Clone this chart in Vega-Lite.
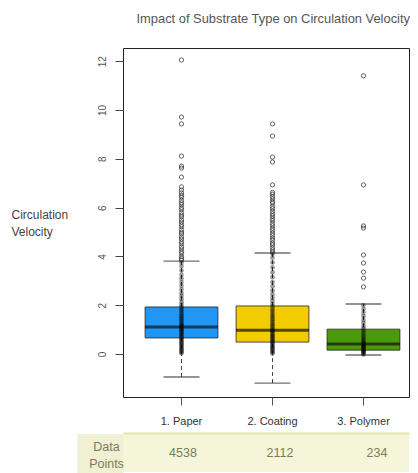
{
  "$schema": "https://vega.github.io/schema/vega-lite/v6.json",
  "padding": {"left": 10, "top": 12, "right": 0, "bottom": 0},
  "background": "white",
  "config": {"font": "Liberation Sans"},
  "title": {"text": "Impact of Substrate Type on Circulation Velocity", "anchor": "start", "dx": 126, "offset": 22, "fontSize": 12.9, "fontWeight": "normal", "color": "#555555"},
  "bounds": "flush",
  "spacing": 36,
  "datasets": {
    "boxes": [
      {"substrate": "1. Paper", "lower": -0.94, "q1": 0.66, "median": 1.11, "q3": 1.93, "upper": 3.81},
      {"substrate": "2. Coating", "lower": -1.19, "q1": 0.49, "median": 0.98, "q3": 1.97, "upper": 4.14},
      {"substrate": "3. Polymer", "lower": -0.04, "q1": 0.16, "median": 0.41, "q3": 1.02, "upper": 2.05}
    ],
    "outliers": [
      {"substrate": "1. Paper", "value": 12.05}, {"substrate": "1. Paper", "value": 9.71}, {"substrate": "1. Paper", "value": 9.43},
      {"substrate": "1. Paper", "value": 8.11}, {"substrate": "1. Paper", "value": 7.7}, {"substrate": "1. Paper", "value": 7.62},
      {"substrate": "1. Paper", "value": 7.25}, {"substrate": "1. Paper", "value": 6.85}, {"substrate": "1. Paper", "value": 6.72},
      {"substrate": "1. Paper", "value": 6.6}, {"substrate": "1. Paper", "value": 6.5}, {"substrate": "1. Paper", "value": 6.42},
      {"substrate": "1. Paper", "value": 6.3}, {"substrate": "1. Paper", "value": 6.2}, {"substrate": "1. Paper", "value": 6.12},
      {"substrate": "1. Paper", "value": 6.0}, {"substrate": "1. Paper", "value": 5.92}, {"substrate": "1. Paper", "value": 5.8},
      {"substrate": "1. Paper", "value": 5.7}, {"substrate": "1. Paper", "value": 5.62}, {"substrate": "1. Paper", "value": 5.5},
      {"substrate": "1. Paper", "value": 5.41}, {"substrate": "1. Paper", "value": 5.3}, {"substrate": "1. Paper", "value": 5.22},
      {"substrate": "1. Paper", "value": 5.1}, {"substrate": "1. Paper", "value": 5.0}, {"substrate": "1. Paper", "value": 4.92},
      {"substrate": "1. Paper", "value": 4.8}, {"substrate": "1. Paper", "value": 4.71}, {"substrate": "1. Paper", "value": 4.6},
      {"substrate": "1. Paper", "value": 4.52}, {"substrate": "1. Paper", "value": 4.4}, {"substrate": "1. Paper", "value": 4.31},
      {"substrate": "1. Paper", "value": 4.2}, {"substrate": "1. Paper", "value": 4.12}, {"substrate": "1. Paper", "value": 4.0},
      {"substrate": "1. Paper", "value": 3.92}, {"substrate": "1. Paper", "value": 3.85},
      {"substrate": "2. Coating", "value": 9.43}, {"substrate": "2. Coating", "value": 8.93}, {"substrate": "2. Coating", "value": 8.07},
      {"substrate": "2. Coating", "value": 7.87}, {"substrate": "2. Coating", "value": 6.93}, {"substrate": "2. Coating", "value": 6.62},
      {"substrate": "2. Coating", "value": 6.55}, {"substrate": "2. Coating", "value": 6.45}, {"substrate": "2. Coating", "value": 6.36},
      {"substrate": "2. Coating", "value": 6.25}, {"substrate": "2. Coating", "value": 6.18}, {"substrate": "2. Coating", "value": 6.05},
      {"substrate": "2. Coating", "value": 5.96}, {"substrate": "2. Coating", "value": 5.85}, {"substrate": "2. Coating", "value": 5.75},
      {"substrate": "2. Coating", "value": 5.66}, {"substrate": "2. Coating", "value": 5.55}, {"substrate": "2. Coating", "value": 5.47},
      {"substrate": "2. Coating", "value": 5.35}, {"substrate": "2. Coating", "value": 5.26}, {"substrate": "2. Coating", "value": 5.15},
      {"substrate": "2. Coating", "value": 5.06}, {"substrate": "2. Coating", "value": 4.95}, {"substrate": "2. Coating", "value": 4.86},
      {"substrate": "2. Coating", "value": 4.75}, {"substrate": "2. Coating", "value": 4.66}, {"substrate": "2. Coating", "value": 4.55},
      {"substrate": "2. Coating", "value": 4.47}, {"substrate": "2. Coating", "value": 4.36}, {"substrate": "2. Coating", "value": 4.27},
      {"substrate": "2. Coating", "value": 4.18},
      {"substrate": "3. Polymer", "value": 11.4}, {"substrate": "3. Polymer", "value": 6.93}, {"substrate": "3. Polymer", "value": 5.25},
      {"substrate": "3. Polymer", "value": 5.16}, {"substrate": "3. Polymer", "value": 4.06}, {"substrate": "3. Polymer", "value": 3.73},
      {"substrate": "3. Polymer", "value": 3.36}, {"substrate": "3. Polymer", "value": 3.11}, {"substrate": "3. Polymer", "value": 2.75}
    ],
    "points": [
      {"substrate": "1. Paper", "value": 0.03}, {"substrate": "1. Paper", "value": 0.08}, {"substrate": "1. Paper", "value": 0.12},
      {"substrate": "1. Paper", "value": 0.18}, {"substrate": "1. Paper", "value": 0.22}, {"substrate": "1. Paper", "value": 0.27},
      {"substrate": "1. Paper", "value": 0.33}, {"substrate": "1. Paper", "value": 0.38}, {"substrate": "1. Paper", "value": 0.42},
      {"substrate": "1. Paper", "value": 0.47}, {"substrate": "1. Paper", "value": 0.52}, {"substrate": "1. Paper", "value": 0.58},
      {"substrate": "1. Paper", "value": 0.63}, {"substrate": "1. Paper", "value": 0.67}, {"substrate": "1. Paper", "value": 0.72},
      {"substrate": "1. Paper", "value": 0.78}, {"substrate": "1. Paper", "value": 0.83}, {"substrate": "1. Paper", "value": 0.88},
      {"substrate": "1. Paper", "value": 0.93}, {"substrate": "1. Paper", "value": 0.97}, {"substrate": "1. Paper", "value": 1.02},
      {"substrate": "1. Paper", "value": 1.08}, {"substrate": "1. Paper", "value": 1.13}, {"substrate": "1. Paper", "value": 1.18},
      {"substrate": "1. Paper", "value": 1.22}, {"substrate": "1. Paper", "value": 1.28}, {"substrate": "1. Paper", "value": 1.35},
      {"substrate": "1. Paper", "value": 1.42}, {"substrate": "1. Paper", "value": 1.48}, {"substrate": "1. Paper", "value": 1.55},
      {"substrate": "1. Paper", "value": 1.62}, {"substrate": "1. Paper", "value": 1.7}, {"substrate": "1. Paper", "value": 1.78},
      {"substrate": "1. Paper", "value": 1.85}, {"substrate": "1. Paper", "value": 1.93}, {"substrate": "1. Paper", "value": 2.02},
      {"substrate": "1. Paper", "value": 2.12}, {"substrate": "1. Paper", "value": 2.25}, {"substrate": "1. Paper", "value": 2.38},
      {"substrate": "1. Paper", "value": 2.5}, {"substrate": "1. Paper", "value": 2.65}, {"substrate": "1. Paper", "value": 2.8},
      {"substrate": "1. Paper", "value": 2.95}, {"substrate": "1. Paper", "value": 3.1}, {"substrate": "1. Paper", "value": 3.25},
      {"substrate": "1. Paper", "value": 3.42}, {"substrate": "1. Paper", "value": 3.6}, {"substrate": "1. Paper", "value": 3.75},
      {"substrate": "2. Coating", "value": 0.02}, {"substrate": "2. Coating", "value": 0.07}, {"substrate": "2. Coating", "value": 0.13},
      {"substrate": "2. Coating", "value": 0.17}, {"substrate": "2. Coating", "value": 0.23}, {"substrate": "2. Coating", "value": 0.28},
      {"substrate": "2. Coating", "value": 0.32}, {"substrate": "2. Coating", "value": 0.38}, {"substrate": "2. Coating", "value": 0.43},
      {"substrate": "2. Coating", "value": 0.48}, {"substrate": "2. Coating", "value": 0.53}, {"substrate": "2. Coating", "value": 0.57},
      {"substrate": "2. Coating", "value": 0.62}, {"substrate": "2. Coating", "value": 0.68}, {"substrate": "2. Coating", "value": 0.73},
      {"substrate": "2. Coating", "value": 0.77}, {"substrate": "2. Coating", "value": 0.82}, {"substrate": "2. Coating", "value": 0.88},
      {"substrate": "2. Coating", "value": 0.93}, {"substrate": "2. Coating", "value": 0.98}, {"substrate": "2. Coating", "value": 1.03},
      {"substrate": "2. Coating", "value": 1.1}, {"substrate": "2. Coating", "value": 1.17}, {"substrate": "2. Coating", "value": 1.23},
      {"substrate": "2. Coating", "value": 1.3}, {"substrate": "2. Coating", "value": 1.38}, {"substrate": "2. Coating", "value": 1.45},
      {"substrate": "2. Coating", "value": 1.52}, {"substrate": "2. Coating", "value": 1.6}, {"substrate": "2. Coating", "value": 1.68},
      {"substrate": "2. Coating", "value": 1.77}, {"substrate": "2. Coating", "value": 1.85}, {"substrate": "2. Coating", "value": 1.95},
      {"substrate": "2. Coating", "value": 2.05}, {"substrate": "2. Coating", "value": 2.17}, {"substrate": "2. Coating", "value": 2.3},
      {"substrate": "2. Coating", "value": 2.45}, {"substrate": "2. Coating", "value": 2.6}, {"substrate": "2. Coating", "value": 2.78},
      {"substrate": "2. Coating", "value": 2.95}, {"substrate": "2. Coating", "value": 3.15}, {"substrate": "2. Coating", "value": 3.35},
      {"substrate": "2. Coating", "value": 3.55}, {"substrate": "2. Coating", "value": 3.75}, {"substrate": "2. Coating", "value": 3.95},
      {"substrate": "2. Coating", "value": 4.1},
      {"substrate": "3. Polymer", "value": -0.02}, {"substrate": "3. Polymer", "value": 0.03}, {"substrate": "3. Polymer", "value": 0.06},
      {"substrate": "3. Polymer", "value": 0.1}, {"substrate": "3. Polymer", "value": 0.12}, {"substrate": "3. Polymer", "value": 0.15},
      {"substrate": "3. Polymer", "value": 0.2}, {"substrate": "3. Polymer", "value": 0.22}, {"substrate": "3. Polymer", "value": 0.27},
      {"substrate": "3. Polymer", "value": 0.31}, {"substrate": "3. Polymer", "value": 0.35}, {"substrate": "3. Polymer", "value": 0.4},
      {"substrate": "3. Polymer", "value": 0.45}, {"substrate": "3. Polymer", "value": 0.52}, {"substrate": "3. Polymer", "value": 0.58},
      {"substrate": "3. Polymer", "value": 0.66}, {"substrate": "3. Polymer", "value": 0.75}, {"substrate": "3. Polymer", "value": 0.85},
      {"substrate": "3. Polymer", "value": 0.95}, {"substrate": "3. Polymer", "value": 1.05}, {"substrate": "3. Polymer", "value": 1.15},
      {"substrate": "3. Polymer", "value": 1.28}, {"substrate": "3. Polymer", "value": 1.4}, {"substrate": "3. Polymer", "value": 1.55},
      {"substrate": "3. Polymer", "value": 1.7}, {"substrate": "3. Polymer", "value": 1.85}, {"substrate": "3. Polymer", "value": 2.0}
    ],
    "counts": [
      {"row": "Data Points", "substrate": "1. Paper", "n": 4538},
      {"row": "Data Points", "substrate": "2. Coating", "n": 2112},
      {"row": "Data Points", "substrate": "3. Polymer", "n": 234}
    ]
  },
  "vconcat": [
    {
      "width": 286,
      "height": 349,
      "view": {"stroke": "#222222", "strokeWidth": 1},
      "encoding": {
        "x": {
          "field": "substrate", "type": "nominal",
          "scale": {"type": "band", "domain": ["1. Paper", "2. Coating", "3. Polymer"], "paddingInner": 0, "paddingOuter": 0.0714, "align": 1},
          "axis": {"title": null, "labelAngle": 0, "labelFontSize": 11, "labelColor": "#333333", "tickSize": 8, "tickColor": "#555555", "domain": false, "labelPadding": 10}
        }
      },
      "layer": [
        {
          "data": {"name": "boxes"},
          "mark": {"type": "rule", "strokeDash": [4, 3], "color": "#444444", "strokeWidth": 1},
          "encoding": {
            "y": {
              "field": "lower", "type": "quantitative",
              "scale": {"domain": [-1.76, 12.54], "nice": false, "zero": false},
              "axis": {
                "title": ["Circulation", "Velocity"], "titleAngle": 0, "titleAlign": "left", "titleBaseline": "top",
                "titleX": -112, "titleY": 161, "titleFontSize": 12, "titleFontWeight": "normal", "titleColor": "#444444", "titleLineHeight": 17,
                "values": [0, 2, 4, 6, 8, 10, 12], "labelAngle": 270, "labelAlign": "center", "labelBaseline": "bottom",
                "labelPadding": 8, "labelFontSize": 10, "labelColor": "#555555", "tickSize": 8, "tickColor": "#444444", "domain": false, "grid": false
              }
            },
            "y2": {"field": "upper"}
          }
        },
        {
          "data": {"name": "boxes"},
          "mark": {"type": "tick", "size": 36, "thickness": 1.3, "color": "#333333"},
          "encoding": {"y": {"field": "lower", "type": "quantitative"}}
        },
        {
          "data": {"name": "boxes"},
          "mark": {"type": "tick", "size": 36, "thickness": 1.3, "color": "#333333"},
          "encoding": {"y": {"field": "upper", "type": "quantitative"}}
        },
        {
          "data": {"name": "boxes"},
          "mark": {"type": "bar", "width": {"band": 0.8}, "stroke": "#222222", "strokeWidth": 0.8, "opacity": 1},
          "encoding": {
            "y": {"field": "q1", "type": "quantitative"},
            "y2": {"field": "q3"},
            "color": {"field": "substrate", "type": "nominal", "scale": {"domain": ["1. Paper", "2. Coating", "3. Polymer"], "range": ["#2196F5", "#F2CC00", "#4C9A0C"]}, "legend": null}
          }
        },
        {
          "data": {"name": "boxes"},
          "mark": {"type": "tick", "size": 73, "thickness": 3, "color": "#111111"},
          "encoding": {"y": {"field": "median", "type": "quantitative"}}
        },
        {
          "data": {"name": "points"},
          "mark": {"type": "circle", "size": 22, "color": "#000000", "opacity": 0.4},
          "encoding": {"y": {"field": "value", "type": "quantitative"}}
        },
        {
          "data": {"name": "outliers"},
          "mark": {"type": "point", "shape": "circle", "filled": false, "size": 18, "stroke": "#222222", "strokeWidth": 1},
          "encoding": {"y": {"field": "value", "type": "quantitative"}}
        }
      ]
    },
    {
      "width": 286,
      "height": 39,
      "data": {"name": "counts"},
      "view": {"fill": "#f5f5da", "stroke": null},
      "mark": {"type": "text", "fontSize": 12.5, "color": "#7b7b5c"},
      "encoding": {
        "x": {
          "field": "substrate", "type": "nominal",
          "scale": {"type": "point", "padding": 0.474, "align": 0.652},
          "axis": {"orient": "top", "title": null, "labels": false, "ticks": false, "domainColor": "#e3e6a6", "domainWidth": 2}
        },
        "y": {
          "field": "row", "type": "nominal",
          "axis": {
            "title": null, "domain": false, "labelExpr": "split(datum.label, ' ')", "labelAlign": "center", "labelBaseline": "middle",
            "labelFontSize": 12.5, "labelColor": "#7b7b5c", "labelLineHeight": 17, "labelOffset": -6, "tickSize": 46, "tickWidth": 39,
            "tickColor": "#f0f0d4", "tickCap": "butt", "labelPadding": -29
          }
        },
        "text": {"field": "n", "type": "quantitative", "format": "d"}
      }
    }
  ]
}
